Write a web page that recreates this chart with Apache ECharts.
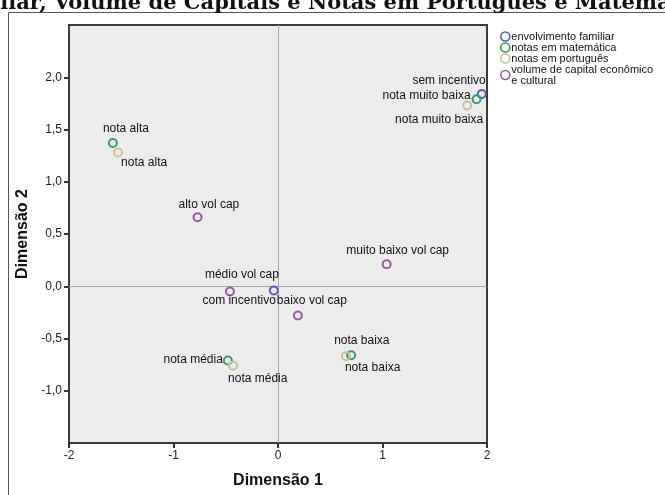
<!DOCTYPE html>
<html>
<head>
<meta charset="utf-8">
<script src="https://cdn.jsdelivr.net/npm/echarts@6/dist/echarts.min.js"></script>
<style>
  html, body { margin: 0; padding: 0; background: #ffffff; }
  #chart { width: 665px; height: 495px; }
</style>
</head>
<body>
<div id="chart"></div>
<script>
// Category points of the joint plot (Dimensão 1, Dimensão 2)
const envolvimentoNames = ['sem incentivo', 'com incentivo'];
const envolvimentoPts = [[1.95, 1.84], [-0.04, -0.04]];

const matematicaNames = ['nota muito baixa', 'nota alta', 'nota baixa', 'nota média'];
const matematicaPts = [[1.90, 1.79], [-1.58, 1.37], [0.70, -0.66], [-0.48, -0.71]];

const portuguesNames = ['nota muito baixa', 'nota alta', 'nota baixa', 'nota média'];
const portuguesPts = [[1.81, 1.73], [-1.53, 1.28], [0.65, -0.67], [-0.43, -0.76]];

const volumeNames = ['alto vol cap', 'médio vol cap', 'baixo vol cap', 'muito baixo vol cap'];
const volumePts = [[-0.77, 0.66], [-0.46, -0.05], [0.19, -0.28], [1.04, 0.21]];

const seriesNames = ['envolvimento familiar', 'notas em matemática', 'notas em português', 'volume de capital econômico\ne cultural'];
const yTicks = [-1, -0.5, 0, 0.5, 1, 1.5, 2];
const xTicks = [-2, -1, 0, 1, 2];

// Label placement per point: [align, dx, dy] from the marker centre
const envolvimentoLabelPos = [['right', 5, -12], ['right', 3, 11]];
const matematicaLabelPos = [['right', -5, -3], ['left', -9, -13], ['left', -16, -14], ['right', -4, 0]];
const portuguesLabelPos = [['right', 17, 15], ['left', 4, 11], ['left', 0, 12], ['left', -4, 14]];
const volumeLabelPos = [['left', -18, -12], ['left', -24, -16], ['left', -20, -14], ['center', 12, -13]];

const colors = ['#4a5fbf', '#2e9e63', '#c9c398', '#9a58a8'];
const SYM = 8;
const FONT = 'Liberation Sans, Arial, sans-serif';

function buildData(names, pts, placement) {
  return pts.map((p, i) => {
    const [align, dx, dy] = placement[i];
    return {
      name: names[i],
      value: p,
      label: { position: [SYM / 2 + dx, SYM / 2 + dy], align: align, verticalAlign: 'middle' }
    };
  });
}

function scatter(idx, names, pts, placement) {
  return {
    name: seriesNames[idx],
    type: 'scatter',
    symbol: 'circle',
    symbolSize: SYM,
    itemStyle: { color: 'rgba(0,0,0,0)', borderColor: colors[idx], borderWidth: 2, opacity: 1 },
    label: {
      show: true,
      formatter: '{b}',
      color: '#111',
      fontFamily: FONT,
      fontSize: 12
    },
    emphasis: { disabled: true },
    data: buildData(names, pts, placement),
    z: 5
  };
}

// Title text (partially above the page edge)
const titleText = 'Envolvimento Familiar, Volume de Capitais e Notas em Português e Matemática';
const titleFont = 'bold 21px "DejaVu Serif", serif';
const ctx = document.createElement('canvas').getContext('2d');
ctx.font = titleFont;
const leadW = ctx.measureText('Envolvimento Familiar, ').width;

const chart = echarts.init(document.getElementById('chart'), null, { renderer: 'canvas' });

const series = [
  scatter(0, envolvimentoNames, envolvimentoPts, envolvimentoLabelPos),
  scatter(1, matematicaNames, matematicaPts, matematicaLabelPos),
  scatter(2, portuguesNames, portuguesPts, portuguesLabelPos),
  scatter(3, volumeNames, volumePts, volumeLabelPos)
];
// zero reference lines
series[0].markLine = {
  silent: true,
  symbol: 'none',
  label: { show: false },
  lineStyle: { color: '#a8a8a8', width: 1, type: 'solid' },
  data: [{ xAxis: 0 }, { yAxis: 0 }],
  z: 1
};

chart.setOption({
  animation: false,
  backgroundColor: '#ffffff',
  graphic: [
    {
      type: 'rect',
      shape: { x: 8.5, y: 12.5, width: 700, height: 520 },
      style: { fill: 'none', stroke: '#555', lineWidth: 1 },
      z: -1
    },
    {
      type: 'text',
      x: 54 - leadW,
      y: 4,
      style: {
        text: titleText,
        font: titleFont,
        fill: '#111',
        textAlign: 'left',
        textVerticalAlign: 'middle'
      }
    }
  ],
  grid: {
    left: 69, right: 178, top: 25, bottom: 52,
    show: true,
    backgroundColor: '#ececec',
    borderColor: '#3a3a3a',
    borderWidth: 2
  },
  legend: {
    orient: 'vertical',
    left: 495,
    top: 26,
    itemWidth: 10,
    itemHeight: 9,
    itemGap: 0,
    selectedMode: false,
    textStyle: { fontFamily: FONT, fontSize: 11, color: '#111', lineHeight: 11, padding: [0, 0, 0, -4] },
    data: seriesNames.map((n, i) => ({
      name: n,
      icon: 'circle',
      itemStyle: { color: 'rgba(0,0,0,0)', borderColor: colors[i], borderWidth: 1.6 }
    }))
  },
  xAxis: {
    type: 'value',
    min: -2, max: 2, interval: 1,
    name: 'Dimensão 1',
    nameLocation: 'middle',
    nameGap: 30,
    nameTextStyle: { fontFamily: FONT, fontSize: 16, fontWeight: 'bold', color: '#111' },
    axisLine: { show: false, onZero: false },
    axisTick: { show: true, inside: false, length: 5, lineStyle: { color: '#333', width: 2 }, customValues: xTicks },
    axisLabel: { color: '#222', fontFamily: FONT, fontSize: 12, margin: 7, customValues: xTicks },
    splitLine: { show: false }
  },
  yAxis: {
    type: 'value',
    min: -1.5, max: 2.5, interval: 0.5,
    name: 'Dimensão 2',
    nameLocation: 'middle',
    nameGap: 37,
    nameRotate: 90,
    nameTextStyle: { fontFamily: FONT, fontSize: 16, fontWeight: 'bold', color: '#111' },
    axisLine: { show: false, onZero: false },
    axisTick: { show: true, inside: false, length: 5, lineStyle: { color: '#333', width: 2 }, customValues: yTicks },
    axisLabel: {
      color: '#222', fontFamily: FONT, fontSize: 12, margin: 7,
      customValues: yTicks,
      formatter: v => v.toFixed(1).replace('.', ',')
    },
    splitLine: { show: false }
  },
  series: series
});
</script>
</body>
</html>
